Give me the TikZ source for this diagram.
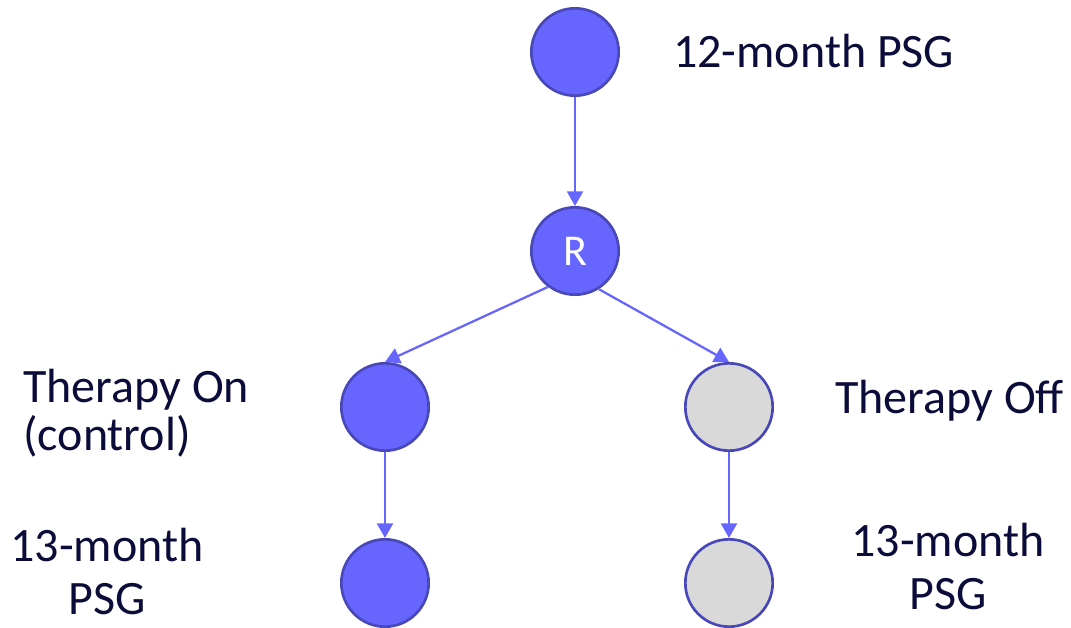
\documentclass[tikz,border=0pt]{standalone}
\usepackage{fontspec}
\setmainfont{Carlito}
\usetikzlibrary{arrows.meta}
\definecolor{armblue}{HTML}{6666FF}
\definecolor{armedge}{HTML}{4848B8}
\definecolor{armgray}{HTML}{D9D9D9}
\definecolor{labelink}{HTML}{0C0C3A}
\begin{document}
\begin{tikzpicture}[x=0.75pt, y=-0.75pt,
                   visit/.style = {circle, draw=armedge, line width=2pt, fill=armblue, minimum size=65.5pt, inner sep=0pt},
                   offvisit/.style = {visit, fill=armgray},
                   flow/.style = {draw=armblue, line width=1.7pt, -{Triangle[width=12pt,length=11pt]}},
                   caption/.style = {text=labelink, inner sep=0pt, font=\fontsize{36}{36}\selectfont}]
                   \useasboundingbox (0,0) rectangle (1071,628);

                   \node[visit] (base) at (575,52) {};
                   \node[visit, text=white, font=\fontsize{33}{33}\selectfont] (rand) at (575,251) {R};
                   \node[visit] (on) at (385,407) {};
                   \node[offvisit] (off) at (729,407) {};
                   \node[visit] (onlast) at (385,583) {};
                   \node[offvisit] (offlast) at (729,583) {};

                   \node[caption, anchor=base west] (baselabel) at (673,67) {12-month PSG};
                   \node[caption, anchor=west, align=left] (onlabel) at (23,413) {Therapy On\\(control)};
                   \node[caption, anchor=base west] (offlabel) at (835,413) {Therapy Off};
                   \node[caption, align=center, font=\fontsize{36}{39.75}\selectfont] (onlastlabel) at (107,571) {13-month\\PSG};
                   \node[caption, align=center, font=\fontsize{36}{39.75}\selectfont] (offlastlabel) at (948,566) {13-month\\PSG};

                   \draw[flow] (base.south) -- (rand.north);
                   \draw[flow] (rand.-127) -- (on.north);
                   \draw[flow] (rand.-58) -- (off.north);
                   \draw[flow] (on.south) -- (onlast.north);
                   \draw[flow] (off.south) -- (offlast.north);
\end{tikzpicture}
\end{document}
